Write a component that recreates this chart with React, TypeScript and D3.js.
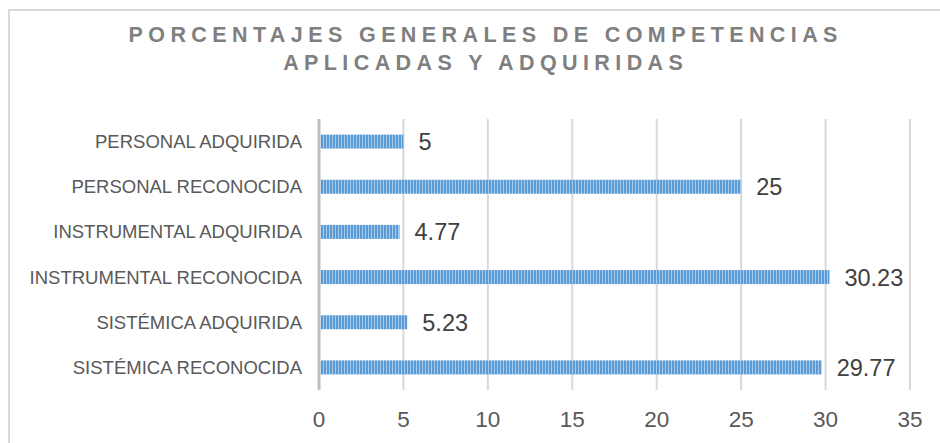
import React from "react";
import * as d3 from "d3";

const categories = [
  "PERSONAL ADQUIRIDA",
  "PERSONAL RECONOCIDA",
  "INSTRUMENTAL ADQUIRIDA",
  "INSTRUMENTAL RECONOCIDA",
  "SISTÉMICA ADQUIRIDA",
  "SISTÉMICA RECONOCIDA",
];
const values = [5, 25, 4.77, 30.23, 5.23, 29.77];
const valueLabels = ["5", "25", "4.77", "30.23", "5.23", "29.77"];
const xTicks = [0, 5, 10, 15, 20, 25, 30, 35];
const titleLines = [
  "PORCENTAJES GENERALES DE COMPETENCIAS",
  "APLICADAS Y ADQUIRIDAS",
];

const W = 940;
const H = 443;
const plot = { left: 319, right: 910, top: 119, bottom: 390 };
const FONT = "'Liberation Sans', Arial, sans-serif";

export default function App() {
  const x = d3.scaleLinear().domain([0, 35]).range([plot.left, plot.right]);
  const y = d3
    .scaleBand<string>()
    .domain(categories)
    .range([plot.top, plot.bottom])
    .paddingInner(0.69)
    .paddingOuter(0.345);
  const bh = y.bandwidth();
  const ls = 5.4;

  return (
    <svg
      width={W}
      height={H}
      style={{ position: "absolute", left: 0, top: 0, background: "#fff" }}
    >
      <defs>
        <pattern id="stripes" width={3} height={10} patternUnits="userSpaceOnUse" x={plot.left + 2}>
          <rect width={3} height={10} fill="#a9cbeb" />
          <rect width={2} height={10} fill="#5b9bd5" />
        </pattern>
      </defs>
      <rect x={0} y={0} width={W} height={H} fill="#fff" />
      <rect x={9} y={10} width={W + 20} height={H + 20} fill="none" stroke="#d9d9d9" strokeWidth={2} />

      {titleLines.map((t, i) => (
        <text
          key={i}
          x={483 + ls / 2}
          y={42 + i * 28}
          textAnchor="middle"
          fontFamily={FONT}
          fontWeight="bold"
          fontSize={21.5}
          letterSpacing={ls}
          fill="#7f7f7f"
        >
          {t}
        </text>
      ))}

      {xTicks.slice(1).map((t) => (
        <line
          key={t}
          x1={x(t)}
          x2={x(t)}
          y1={plot.top}
          y2={plot.bottom}
          stroke="#d9d9d9"
          strokeWidth={2}
        />
      ))}

      {categories.map((c, i) => {
        const yy = y(c)!;
        return (
          <g key={c}>
            <rect x={x(0) + 1.5} y={yy} width={x(values[i]) - x(0) - 1.5} height={bh} fill="url(#stripes)" />
            <text
              x={302}
              y={yy + bh / 2 + 6.5}
              textAnchor="end"
              fontFamily={FONT}
              fontSize={18.5}
              fill="#595959"
            >
              {c}
            </text>
            <text
              x={x(values[i]) + 15}
              y={yy + bh / 2 + 8.5}
              fontFamily={FONT}
              fontSize={23.5}
              fill="#404040"
            >
              {valueLabels[i]}
            </text>
          </g>
        );
      })}

      <line x1={x(0)} x2={x(0)} y1={plot.top} y2={plot.bottom} stroke="#bfbfbf" strokeWidth={3} />

      {xTicks.map((t) => (
        <text
          key={t}
          x={x(t)}
          y={427}
          textAnchor="middle"
          fontFamily={FONT}
          fontSize={22.5}
          fill="#595959"
        >
          {t}
        </text>
      ))}
    </svg>
  );
}
